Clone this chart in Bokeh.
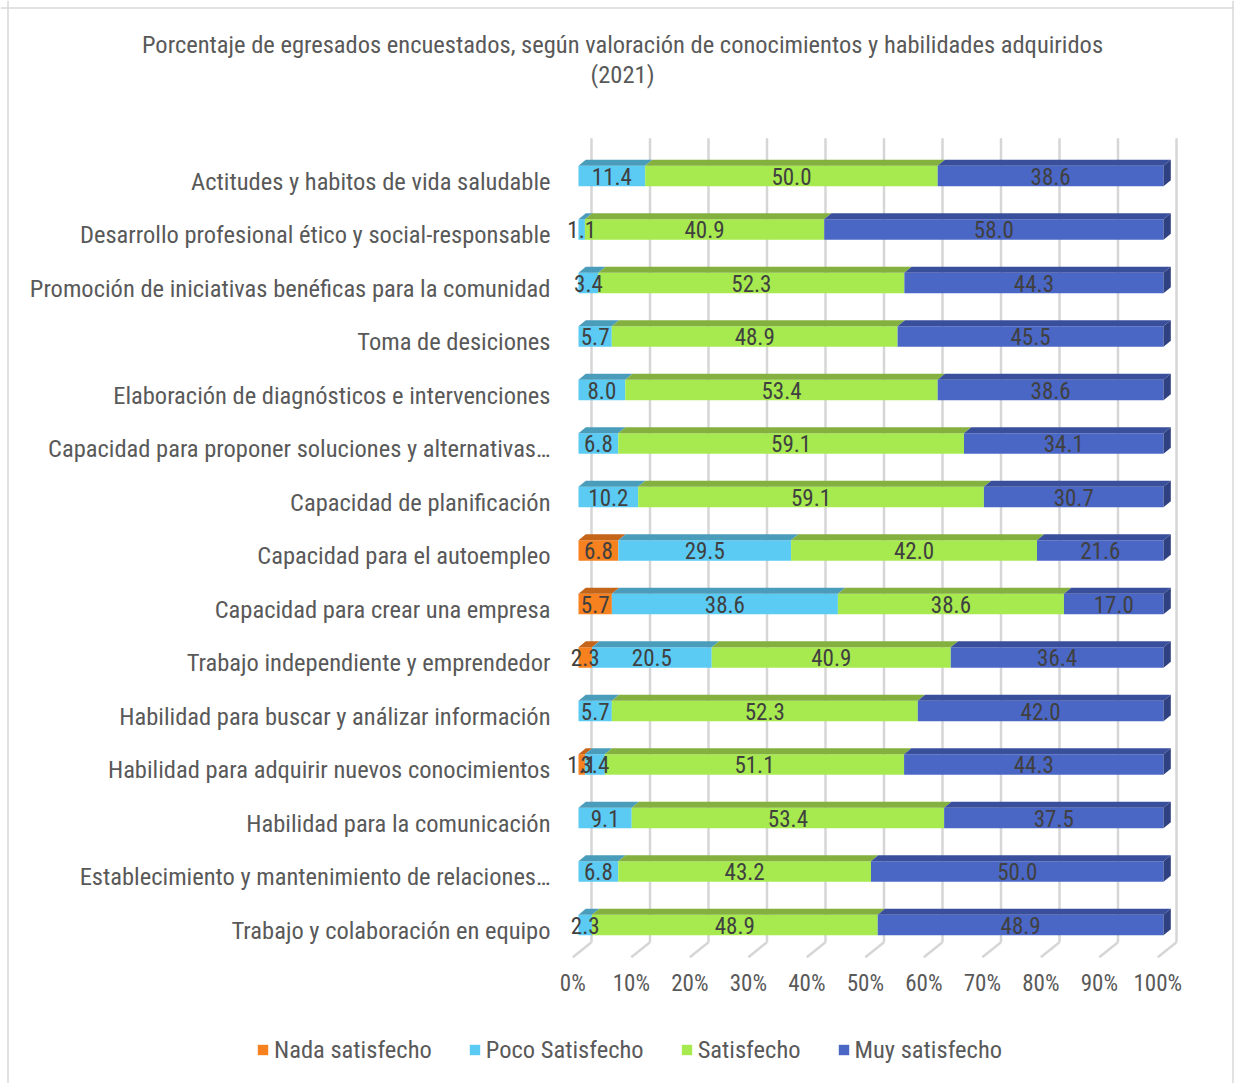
from bokeh.plotting import figure
from bokeh.models import (ColumnDataSource, Range1d, Legend, LegendItem, Span)
from bokeh.core.properties import value
from bokeh.embed import file_html
from bokeh.resources import INLINE

# ---------------- data ----------------
categories = [
    "Actitudes y habitos de vida saludable",
    "Desarrollo profesional ético y social-responsable",
    "Promoción de iniciativas benéficas para la comunidad",
    "Toma de desiciones",
    "Elaboración de diagnósticos e intervenciones",
    "Capacidad para proponer soluciones y alternativas…",
    "Capacidad de planificación",
    "Capacidad para el autoempleo",
    "Capacidad para crear una empresa",
    "Trabajo independiente y emprendedor",
    "Habilidad para buscar y análizar información",
    "Habilidad para adquirir nuevos conocimientos",
    "Habilidad para la comunicación",
    "Establecimiento y mantenimiento de relaciones…",
    "Trabajo y colaboración en equipo",
]
series_names = ["Nada satisfecho", "Poco Satisfecho", "Satisfecho", "Muy satisfecho"]
nada = [0, 0, 0, 0, 0, 0, 0, 6.8, 5.7, 2.3, 0, 1.1, 0, 0, 0]
poco = [11.4, 1.1, 3.4, 5.7, 8.0, 6.8, 10.2, 29.5, 38.6, 20.5, 5.7, 3.4, 9.1, 6.8, 2.3]
satisfecho = [50.0, 40.9, 52.3, 48.9, 53.4, 59.1, 59.1, 42.0, 38.6, 40.9, 52.3, 51.1, 53.4, 43.2, 48.9]
muy = [38.6, 58.0, 44.3, 45.5, 38.6, 34.1, 30.7, 21.6, 17.0, 36.4, 42.0, 44.3, 37.5, 50.0, 48.9]
tick_values = [0, 10, 20, 30, 40, 50, 60, 70, 80, 90, 100]
tick_labels = ["0%", "10%", "20%", "30%", "40%", "50%", "60%", "70%", "80%", "90%", "100%"]
title_lines = ["Porcentaje de egresados encuestados, según valoración de conocimientos "
               "y habilidades adquiridos", "(2021)"]

# ---------------- style ----------------
FONT = "'Roboto Condensed', Roboto, sans-serif"
front_colors = ["#F7811F", "#5BCBF4", "#A6EA50", "#4A67C6"]
top_colors = ["#C5651A", "#4A9CBB", "#84B03F", "#3A4F9C"]
side_color = "#2F4180"
text_grey = "#595959"
label_grey = "#404040"

W, H = 1234, 1083
PX = 5.85      # pixels per percent
ROW = 53.5     # pixels per category row
x_zero_px = 578.0
row0_px = 175.5


def xu(px):   # canvas x pixel -> data x
    return (px - x_zero_px) / PX


def yu(py):   # canvas y pixel -> data y (rows)
    return (py - row0_px) / ROW


bar_h = 20.5 / ROW
dx = 7.3 / PX
dy = 6.0 / ROW
wall_dx = 13.0 / PX
floor_dx = -18.7 / PX

x_range = Range1d(xu(0), xu(W))
y_range = Range1d(yu(H), yu(0))

p = figure(width=W, height=H, x_range=x_range, y_range=y_range,
           x_axis_type=None, y_axis_type=None, toolbar_location=None,
           output_backend="svg", min_border=0,
           background_fill_color="white", border_fill_color="white")
p.outline_line_color = None
p.xgrid.visible = False
p.ygrid.visible = False

# chart border (left, top, right)
for loc, dim in ((xu(7.5), "height"), (xu(1232.5), "height"), (yu(7.5), "width")):
    p.add_layout(Span(location=loc, dimension=dim, line_color="#D9D9D9", line_width=1.5))

# ---------------- title ----------------
p.text(x=[xu(622)] * 2, y=[yu(44), yu(74)], text=title_lines,
       text_font=value(FONT), text_font_size="24.5px", text_color=text_grey,
       text_align="center", text_baseline="middle")

# ---------------- back wall gridlines and floor ----------------
g_top = yu(137.7)
g_bot = yu(941.7)
f_bot = yu(956.7)
gx = [v + wall_dx for v in tick_values]
p.segment(x0=gx, y0=[g_top] * len(gx), x1=gx, y1=[g_bot] * len(gx),
          line_color="#D6D6D6", line_width=2.5)
p.segment(x0=gx, y0=[g_bot] * len(gx), x1=[x + floor_dx for x in gx],
          y1=[f_bot] * len(gx), line_color="#D6D6D6", line_width=2.5)

# ---------------- bars ----------------
all_series = [nada, poco, satisfecho, muy]
n = len(categories)
totals = [sum(s[i] for s in all_series) for i in range(n)]
cum = [0.0] * n
legend_items = []
lab_x, lab_y, lab_t = [], [], []
side_xs, side_ys = [], []
for j, s in enumerate(all_series):
    ys, ls, rs = [], [], []
    txs, tys = [], []
    for i in range(n):
        left = cum[i]
        right = cum[i] + s[i] / totals[i] * 100.0
        cum[i] = right
        if s[i] <= 0:
            continue
        ys.append(i)
        ls.append(left)
        rs.append(right)
        top = i - bar_h / 2
        bot = i + bar_h / 2
        txs.append([left, right, right + dx, left + dx])
        tys.append([top, top, top - dy, top - dy])
        lab_x.append((left + right) / 2)
        lab_y.append(i)
        lab_t.append(f"{s[i]:.1f}")
        if j == len(all_series) - 1:
            side_xs.append([right, right + dx, right + dx, right])
            side_ys.append([top, top - dy, bot - dy, bot])
    src = ColumnDataSource(dict(y=ys, left=ls, right=rs))
    r = p.hbar(y="y", left="left", right="right", height=bar_h, source=src,
               fill_color=front_colors[j], line_color=None)
    p.patches(xs=txs, ys=tys, fill_color=top_colors[j], line_color=None)
    legend_items.append(LegendItem(label=series_names[j], renderers=[r]))

p.patches(xs=side_xs, ys=side_ys, fill_color=side_color, line_color=None)

# value labels
p.text(x=lab_x, y=lab_y, text=lab_t, text_font=value(FONT), text_font_size="23px",
       text_color=label_grey, text_align="center", text_baseline="middle")

# category labels
p.text(x=[xu(550)] * n, y=[i + 5.0 / ROW for i in range(n)], text=categories,
       text_font=value(FONT), text_font_size="24.5px", text_color=text_grey,
       text_align="right", text_baseline="middle")

# ---------------- x tick labels (percent scale) ----------------
tick_shift = -5.7 / PX
p.text(x=[v + tick_shift for v in tick_values], y=[yu(983)] * len(tick_values),
       text=tick_labels, text_font=value(FONT), text_font_size="23px",
       text_color=text_grey, text_align="center", text_baseline="middle")

# ---------------- legend ----------------
legend = Legend(items=legend_items, orientation="horizontal", location=(256, 19),
                glyph_width=13, glyph_height=13, label_standoff=5, spacing=36,
                padding=0, margin=0, border_line_color=None,
                background_fill_alpha=0, label_text_font=FONT,
                label_text_font_size="24.5px", label_text_color=text_grey,
                label_height=13)
p.add_layout(legend)

open("out.html", "w").write(file_html(p, INLINE))
